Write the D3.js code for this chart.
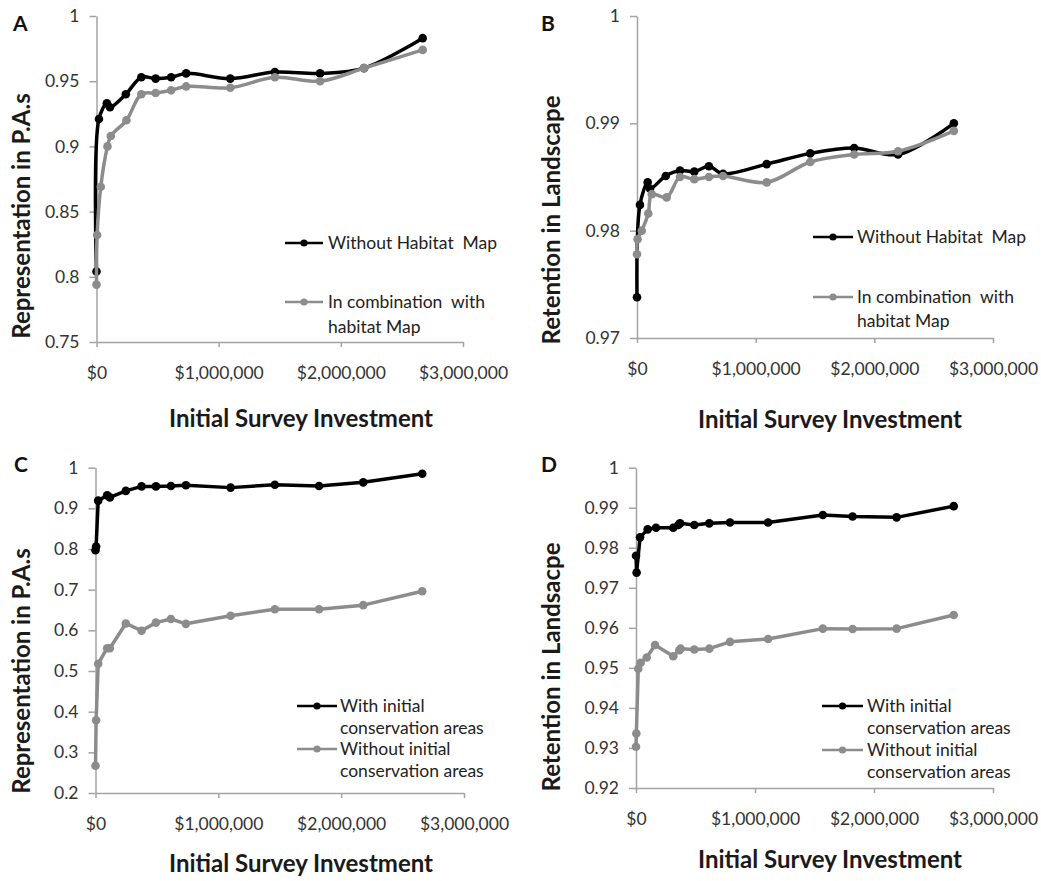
<!DOCTYPE html>
<html lang="en">
<head>
<meta charset="UTF-8"/>
<title>Initial survey investment panels</title>
<script src="https://cdn.jsdelivr.net/npm/d3@7"></script>
<style>
body {
  margin: 0;
  background: #fff;
  font-family: 'Lato', 'Open Sans', sans-serif;
}
svg { display: block; }
.axis path, .axis line {
  stroke: #a3a3a3;
  stroke-width: 1.5;
}
.axis text {
  font-family: 'Lato', sans-serif;
  font-size: 17.5px;
  fill: #333;
}
.title {
  font-weight: 700;
  font-size: 24px;
  fill: #1a1a1a;
}
.letter {
  font-weight: 700;
  font-size: 21px;
  fill: #111;
}
.legend {
  font-size: 17.5px;
  fill: #222;
}
</style>
</head>
<body>
<svg width="1041" height="881"></svg>
<script>
// shared x ticks ($)
const xTicks = [0, 1000000, 2000000, 3000000];

// Panel A - representation in P.A.s
const yTicksA = [0.75, 0.8, 0.85, 0.9, 0.95, 1];
const xA1 = [0, 20000, 85000, 110000, 240000, 367000, 484000, 611000, 734000, 1095000, 1460000, 1830000, 2190000, 2670000];
const yA1 = [0.804, 0.921, 0.933, 0.930, 0.940, 0.953, 0.952, 0.953, 0.956, 0.952, 0.957, 0.956, 0.960, 0.983];
const xA2 = [0, 5000, 35000, 90000, 117000, 245000, 367000, 484000, 611000, 734000, 1095000, 1460000, 1830000, 2190000, 2670000];
const yA2 = [0.794, 0.832, 0.869, 0.900, 0.908, 0.920, 0.940, 0.941, 0.943, 0.946, 0.945, 0.953, 0.950, 0.960, 0.974];

// Panel B - retention in landscape
const yTicksB = [0.97, 0.98, 0.99, 1];
const xB1 = [0, 25000, 90000, 110000, 242000, 362000, 483000, 606000, 725000, 1093000, 1460000, 1830000, 2200000, 2670000];
const yB1 = [0.9738, 0.9824, 0.9845, 0.9839, 0.9851, 0.9856, 0.9855, 0.9860, 0.9853, 0.9862, 0.9872, 0.9877, 0.9871, 0.9900];
const xB2 = [0, 5000, 40000, 95000, 125000, 250000, 362000, 483000, 606000, 725000, 1093000, 1460000, 1830000, 2200000, 2670000];
const yB2 = [0.9778, 0.9792, 0.9800, 0.9816, 0.9834, 0.9831, 0.9850, 0.9848, 0.9850, 0.9851, 0.9845, 0.9864, 0.9871, 0.9874, 0.9893];

// Panel C - representation, with / without initial areas
const yTicksC = [0.2, 0.3, 0.4, 0.5, 0.6, 0.7, 0.8, 0.9, 1];
const xC1 = [0, 5000, 22000, 95000, 117000, 247000, 375000, 492000, 614000, 736000, 1100000, 1460000, 1820000, 2180000, 2660000];
const yC1 = [0.797, 0.806, 0.919, 0.932, 0.927, 0.943, 0.954, 0.954, 0.955, 0.957, 0.951, 0.958, 0.955, 0.964, 0.985];
const xC2 = [0, 5000, 22000, 95000, 117000, 247000, 375000, 492000, 614000, 736000, 1100000, 1460000, 1820000, 2180000, 2660000];
const yC2 = [0.267, 0.379, 0.518, 0.556, 0.556, 0.617, 0.599, 0.619, 0.628, 0.616, 0.636, 0.652, 0.652, 0.662, 0.696];

// Panel D - retention, with / without initial areas
const yTicksD = [0.92, 0.93, 0.94, 0.95, 0.96, 0.97, 0.98, 0.99, 1];
const xD1 = [0, 5000, 34000, 98000, 168000, 313000, 355000, 370000, 490000, 616000, 790000, 1110000, 1570000, 1820000, 2190000, 2670000];
const yD1 = [0.978, 0.9738, 0.9826, 0.9846, 0.985, 0.985, 0.9857, 0.9861, 0.9857, 0.9861, 0.9863, 0.9863, 0.9882, 0.9878, 0.9876, 0.9904];
const xD2 = [0, 3000, 19000, 39000, 90000, 160000, 313000, 364000, 375000, 490000, 616000, 790000, 1110000, 1570000, 1820000, 2190000, 2670000];
const yD2 = [0.9303, 0.9336, 0.9498, 0.9513, 0.9526, 0.9557, 0.9529, 0.9544, 0.9548, 0.9546, 0.9548, 0.9565, 0.9572, 0.9598, 0.9597, 0.9598, 0.9632];

const BLACK = '#000';
const GREY = '#8c8c8c';

const svg = d3.select('svg');

const panels = [
  {
    letter: 'A', lx: 13, ly: 31,
    box: [96.5, 463, 16, 342], yDomain: [0.75, 1], yTicks: yTicksA,
    yTitle: 'Representation in P.A.s', yt: [22, 216], xt: [301, 427],
    curve: d3.curveCatmullRom.alpha(0.5),
    series: [{ x: xA1, y: yA1, c: BLACK }, { x: xA2, y: yA2, c: GREY }],
    legend: { x1: 285, x2: 323, tx: 328, lh: 25,
      items: [{ c: BLACK, y: 243, lines: ['Without Habitat  Map'] },
              { c: GREY, y: 302, lines: ['In combination  with', 'habitat Map'] }] }
  },
  {
    letter: 'B', lx: 541, ly: 31,
    box: [637, 993, 16, 338], yDomain: [0.97, 1], yTicks: yTicksB,
    yTitle: 'Retention in Landscape', yt: [552, 220], xt: [830, 428],
    curve: d3.curveCatmullRom.alpha(0.5),
    series: [{ x: xB1, y: yB1, c: BLACK }, { x: xB2, y: yB2, c: GREY }],
    legend: { x1: 813, x2: 853, tx: 857, lh: 24,
      items: [{ c: BLACK, y: 237, lines: ['Without Habitat  Map'] },
              { c: GREY, y: 297, lines: ['In combination  with', 'habitat Map'] }] }
  },
  {
    letter: 'C', lx: 14, ly: 472,
    box: [95.5, 464, 467.7, 793], yDomain: [0.2, 1], yTicks: yTicksC,
    yTitle: 'Representation in P.A.s', yt: [22, 671], xt: [301, 872],
    curve: d3.curveLinear,
    series: [{ x: xC1, y: yC1, c: BLACK }, { x: xC2, y: yC2, c: GREY }],
    legend: { x1: 297, x2: 337, tx: 340, lh: 22,
      items: [{ c: BLACK, y: 706, lines: ['With initial', 'conservation areas'] },
              { c: GREY, y: 749, lines: ['Without initial', 'conservation areas'] }] }
  },
  {
    letter: 'D', lx: 541, ly: 472,
    box: [636, 993, 467.7, 788], yDomain: [0.92, 1], yTicks: yTicksD,
    yTitle: 'Retention in Landsacpe', yt: [552, 667], xt: [830, 868],
    curve: d3.curveLinear,
    series: [{ x: xD1, y: yD1, c: BLACK }, { x: xD2, y: yD2, c: GREY }],
    legend: { x1: 822, x2: 863, tx: 867, lh: 22,
      items: [{ c: BLACK, y: 706, lines: ['With initial', 'conservation areas'] },
              { c: GREY, y: 750, lines: ['Without initial', 'conservation areas'] }] }
  }
];

panels.forEach(p => {
  const [x0, x1, y0, y1] = p.box;
  const x = d3.scaleLinear().domain([0, 3000000]).range([x0, x1]);
  const y = d3.scaleLinear().domain(p.yDomain).range([y1, y0]);

  // axes
  svg.append('g')
    .attr('class', 'axis')
    .attr('transform', `translate(0, ${y1})`)
    .call(d3.axisBottom(x)
      .tickValues(xTicks)
      .tickSizeInner(5).tickSizeOuter(0)
      .tickPadding(20)
      .tickFormat(d3.format('$,')));

  svg.append('g')
    .attr('class', 'axis')
    .attr('transform', `translate(${x0}, 0)`)
    .call(d3.axisLeft(y)
      .tickValues(p.yTicks)
      .tickSizeInner(7).tickSizeOuter(0)
      .tickPadding(10)
      .tickFormat(d => String(+d.toFixed(3))));

  // series
  p.series.forEach(s => {
    const pts = s.x.map((v, i) => [v, s.y[i]]);
    const line = d3.line()
      .x(d => x(d[0]))
      .y(d => y(d[1]))
      .curve(p.curve);

    svg.append('path')
      .datum(pts)
      .attr('fill', 'none')
      .attr('stroke', s.c)
      .attr('stroke-width', 3.5)
      .attr('stroke-linejoin', 'round')
      .attr('d', line);

    svg.append('g')
      .selectAll('circle')
      .data(pts)
      .join('circle')
      .attr('cx', d => x(d[0]))
      .attr('cy', d => y(d[1]))
      .attr('r', 4.3)
      .attr('fill', s.c);
  });

  // legend
  const lg = svg.append('g');
  p.legend.items.forEach(it => {
    lg.append('line')
      .attr('x1', p.legend.x1).attr('x2', p.legend.x2)
      .attr('y1', it.y).attr('y2', it.y)
      .attr('stroke', it.c).attr('stroke-width', 2.5);
    lg.append('circle')
      .attr('cx', (p.legend.x1 + p.legend.x2) / 2)
      .attr('cy', it.y).attr('r', 3.6)
      .attr('fill', it.c);
    it.lines.forEach((t, i) => {
      lg.append('text')
        .attr('class', 'legend')
        .attr('x', p.legend.tx)
        .attr('y', it.y + i * p.legend.lh)
        .attr('dy', '0.35em')
        .style('white-space', 'pre')
        .text(t);
    });
  });

  // titles
  svg.append('text')
    .attr('class', 'title')
    .attr('x', p.xt[0]).attr('y', p.xt[1])
    .attr('text-anchor', 'middle')
    .text('Initial Survey Investment');

  svg.append('text')
    .attr('class', 'title')
    .attr('transform', `translate(${p.yt[0]}, ${p.yt[1]}) rotate(-90)`)
    .attr('text-anchor', 'middle')
    .attr('dy', '0.35em')
    .text(p.yTitle);

  svg.append('text')
    .attr('class', 'letter')
    .attr('x', p.lx).attr('y', p.ly)
    .text(p.letter);
});
</script>
</body>
</html>
